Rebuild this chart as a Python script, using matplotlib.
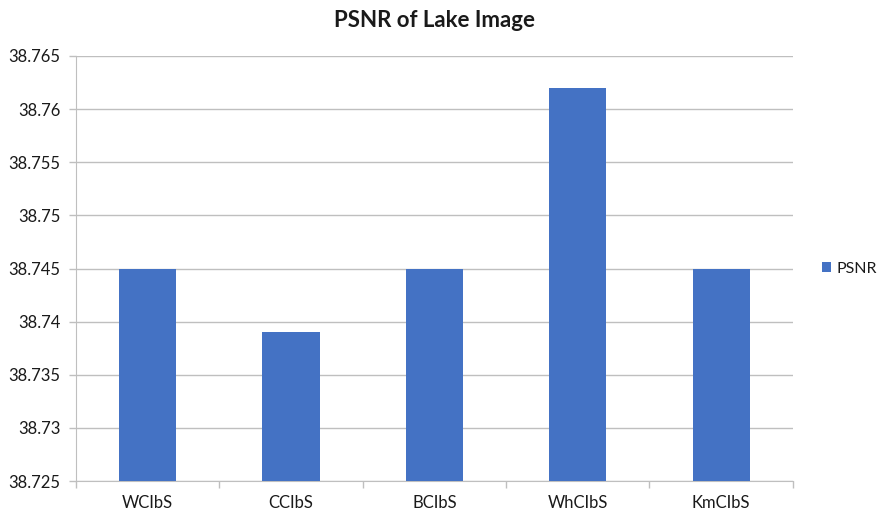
import matplotlib
matplotlib.use('Agg')
import matplotlib.pyplot as plt
import numpy as np

plt.rcParams['font.family'] = ['Lato', 'DejaVu Sans']

methods = ['WCIbS', 'CCIbS', 'BCIbS', 'WhCIbS', 'KmCIbS']
psnr = [38.745, 38.739, 38.745, 38.762, 38.745]
yticks = [38.725, 38.73, 38.735, 38.74, 38.745, 38.75, 38.755, 38.76, 38.765]
ytick_labels = ['38.725', '38.73', '38.735', '38.74', '38.745', '38.75', '38.755', '38.76', '38.765']

bar_col = '#4472C4'
grid_col = '#BFBFBF'
text_col = '#1a1a1a'

fig = plt.figure(figsize=(8.79, 5.17), dpi=100)
ax = fig.add_axes([0.0865, 0.0696, 0.8155, 0.8221])

x = np.arange(len(methods))
bars = ax.bar(x, psnr, width=0.4, color=bar_col, zorder=3, label='PSNR')

ax.set_ylim(yticks[0], yticks[-1])
ax.set_xlim(-0.5, len(methods) - 0.5)
ax.set_yticks(yticks)
ax.set_yticklabels(ytick_labels, fontsize=12, color=text_col)
ax.set_xticks(x)
ax.set_xticklabels(methods, fontsize=12, color=text_col)
ax.set_xticks(np.arange(-0.5, len(methods)), minor=True)

ax.tick_params(axis='x', which='major', length=0, pad=10)
ax.tick_params(axis='x', which='minor', length=5, color=grid_col, width=1)
ax.tick_params(axis='y', length=5, color=grid_col, width=1, pad=6)

ax.yaxis.grid(True, color=grid_col, linewidth=1, zorder=0)
for s in ['top', 'right']:
    ax.spines[s].set_visible(False)
ax.spines['left'].set_color(grid_col)
ax.spines['bottom'].set_color(grid_col)

ax.set_title('PSNR of Lake Image', fontsize=16, fontweight='bold', pad=21, color=text_col)

ax.legend(loc='center left', bbox_to_anchor=(1.04, 0.5), frameon=False,
          borderpad=0, borderaxespad=0,
          fontsize=11.5, handlelength=0.6, handleheight=0.6, handletextpad=0.35,
          labelcolor=text_col)

fig.savefig('out.png', dpi=100)
